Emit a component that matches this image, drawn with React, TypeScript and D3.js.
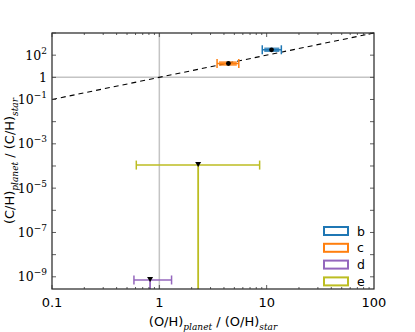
import { useEffect, useRef } from 'react';
import * as d3 from 'd3';

// planets and their abundance ratios
const planets = ['b', 'c', 'd', 'e'];
const colors = ['#1f77b4', '#ff7f0e', '#9467bd', '#bcbd22'];
const ohValues = [11.1, 4.4, 0.82, 2.3];
const ohLow = [9.1, 3.45, 0.58, 0.61];
const ohHigh = [13.7, 5.5, 1.3, 8.6];
const chValues = [17.5, 4.2, 7.2e-10, 1.1e-4];
const chLow = [15.5, 3.6, 1e-12, 1e-12];
const chHigh = [19.5, 4.9, 7.2e-10, 1.1e-4];
const upperLimit = [false, false, true, true];

const xTickValues = [0.1, 1, 10, 100];
const xTickLabels = ['0.1', '1', '10', '100'];
const yTickValues = [10, 1, 0.1, 1e-3, 1e-5, 1e-7, 1e-9];
const yTickBase = ['10', '1', '10', '10', '10', '10', '10'];
const yTickExp = ['2', '', '−1', '−3', '−5', '−7', '−9'];

const W = 415;
const H = 332;

const App = () => {
  const ref = useRef<SVGSVGElement>(null);

  useEffect(() => {
    const svg = d3.select(ref.current);
    svg.selectAll('*').remove();

    const margin = { top: 33, right: 41, bottom: 43, left: 52 };
    const x0 = margin.left;
    const x1 = W - margin.right;
    const y0 = margin.top;
    const y1 = H - margin.bottom;

    const x = d3.scaleLog().domain([0.1, 100]).range([x0, x1]);
    const y = d3.scaleLog().domain([Math.pow(10, -9.55), 100]).range([y1, y0]);

    const plot = svg.append('g');
    const clip = svg.append('clipPath').attr('id', 'clip');
    clip.append('rect').attr('x', x0).attr('y', y0).attr('width', x1 - x0).attr('height', y1 - y0);

    // reference lines
    plot.append('line')
      .attr('x1', x(1)).attr('x2', x(1)).attr('y1', y0).attr('y2', y1)
      .attr('stroke', '#c4c4c4').attr('stroke-width', 1.5);
    plot.append('line')
      .attr('x1', x0).attr('x2', x1).attr('y1', y(1)).attr('y2', y(1))
      .attr('stroke', '#c4c4c4').attr('stroke-width', 1.5);

    // one-to-one dashed line
    plot.append('line')
      .attr('x1', x(0.1)).attr('y1', y(0.1)).attr('x2', x(100)).attr('y2', y(100))
      .attr('stroke', '#000').attr('stroke-width', 1.1).attr('stroke-dasharray', '5,4');

    const g = plot.append('g').attr('clip-path', 'url(#clip)');
    planets.forEach((p, i) => {
      const c = colors[i];
      const cy = y(chValues[i]);
      const cx = x(ohValues[i]);
      // horizontal error bar
      if (!upperLimit[i]) {
        g.append('line')
          .attr('x1', x(ohLow[i]) + 2).attr('x2', x(ohHigh[i]) - 2).attr('y1', cy).attr('y2', cy)
          .attr('stroke', c).attr('stroke-width', 4.5).attr('opacity', 0.8);
      }
      g.append('line')
        .attr('x1', x(ohLow[i])).attr('x2', x(ohHigh[i])).attr('y1', cy).attr('y2', cy)
        .attr('stroke', c).attr('stroke-width', 1.5);
      [ohLow[i], ohHigh[i]].forEach(v => {
        g.append('line')
          .attr('x1', x(v)).attr('x2', x(v)).attr('y1', cy - 4.5).attr('y2', cy + 4.5)
          .attr('stroke', c).attr('stroke-width', 1.5);
      });
      // vertical error bar
      g.append('line')
        .attr('x1', cx).attr('x2', cx).attr('y1', y(chHigh[i])).attr('y2', y(chLow[i]))
        .attr('stroke', c).attr('stroke-width', 1.8);
      // marker
      if (upperLimit[i]) {
        g.append('path')
          .attr('d', `M${cx - 3},${cy - 3}L${cx + 3},${cy - 3}L${cx},${cy + 2}Z`)
          .attr('fill', '#000');
      } else {
        g.append('circle').attr('cx', cx).attr('cy', cy).attr('r', 2.4).attr('fill', '#000');
      }
    });

    // frame
    plot.append('rect')
      .attr('x', x0).attr('y', y0).attr('width', x1 - x0).attr('height', y1 - y0)
      .attr('fill', 'none').attr('stroke', '#222').attr('stroke-width', 1.2);

    // ticks (inward, all sides)
    const ticks = plot.append('g').attr('stroke', '#333').attr('stroke-width', 0.8);
    for (let e = -1; e < 2; e++) {
      for (let m = 1; m < 10; m++) {
        const v = m * Math.pow(10, e);
        const len = m === 1 ? 4 : 2;
        const px = x(v);
        ticks.append('line').attr('x1', px).attr('x2', px).attr('y1', y1).attr('y2', y1 - len);
        ticks.append('line').attr('x1', px).attr('x2', px).attr('y1', y0).attr('y2', y0 + len);
      }
    }
    for (let e = -9; e <= 2; e++) {
      const py = y(Math.pow(10, e));
      ticks.append('line').attr('x1', x0).attr('x2', x0 + 4).attr('y1', py).attr('y2', py);
      ticks.append('line').attr('x1', x1).attr('x2', x1 - 4).attr('y1', py).attr('y2', py);
    }

    // x tick labels
    xTickValues.forEach((v, i) => {
      svg.append('text')
        .attr('x', x(v)).attr('y', y1 + 18)
        .attr('text-anchor', 'middle')
        .attr('font-family', 'DejaVu Sans, sans-serif').attr('font-size', 13)
        .text(xTickLabels[i]);
    });

    // y tick labels
    yTickValues.forEach((v, i) => {
      const t = svg.append('text')
        .attr('x', x0 - 5).attr('y', y(v) + 4.5)
        .attr('text-anchor', 'end')
        .attr('font-family', 'DejaVu Serif, serif').attr('font-size', 12.5);
      t.append('tspan').text(yTickBase[i]);
      if (yTickExp[i]) {
        t.append('tspan').attr('dy', -6).attr('font-size', 9).text(yTickExp[i]);
      }
    });

    // axis labels
    const xl = svg.append('text')
      .attr('x', (x0 + x1) / 2).attr('y', H - 6)
      .attr('text-anchor', 'middle')
      .attr('font-family', 'DejaVu Sans, sans-serif').attr('font-size', 13);
    xl.append('tspan').text('(O/H)');
    xl.append('tspan').attr('dy', 3.5).attr('font-size', 9).attr('font-style', 'italic')
      .attr('font-family', 'DejaVu Serif, serif').text('planet');
    xl.append('tspan').attr('dy', -3.5).text(' / (O/H)');
    xl.append('tspan').attr('dy', 3.5).attr('font-size', 9).attr('font-style', 'italic')
      .attr('font-family', 'DejaVu Serif, serif').text('star');

    const yl = svg.append('text')
      .attr('transform', `translate(14,${(y0 + y1) / 2}) rotate(-90)`)
      .attr('text-anchor', 'middle')
      .attr('font-family', 'DejaVu Sans, sans-serif').attr('font-size', 13);
    yl.append('tspan').text('(C/H)');
    yl.append('tspan').attr('dy', 3.5).attr('font-size', 9).attr('font-style', 'italic')
      .attr('font-family', 'DejaVu Serif, serif').text('planet');
    yl.append('tspan').attr('dy', -3.5).text(' / (C/H)');
    yl.append('tspan').attr('dy', 3.5).attr('font-size', 9).attr('font-style', 'italic')
      .attr('font-family', 'DejaVu Serif, serif').text('star');

    // legend
    const legend = svg.append('g').attr('transform', `translate(324,227)`);
    planets.forEach((p, i) => {
      const row = legend.append('g').attr('transform', `translate(0,${i * 16.8})`);
      row.append('rect').attr('width', 24).attr('height', 8)
        .attr('fill', 'none').attr('stroke', colors[i]).attr('stroke-width', 2);
      row.append('text').attr('x', 33).attr('y', 8.5)
        .attr('font-family', 'DejaVu Sans, sans-serif').attr('font-size', 12.5)
        .text(p);
    });
  }, []);

  return (
    <svg ref={ref} width={W} height={H}
      style={{ position: 'absolute', left: 0, top: 0, background: '#fff' }} />
  );
};

export default App;
